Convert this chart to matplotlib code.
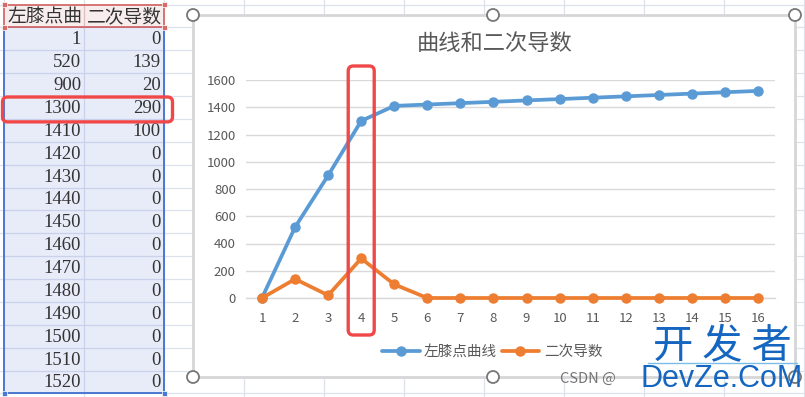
import matplotlib
matplotlib.use('Agg')
import matplotlib.pyplot as plt
from matplotlib.patches import Rectangle, FancyBboxPatch, Circle

plt.rcParams['font.family'] = ['Noto Sans CJK SC', 'DejaVu Sans']

# ---------------- data ----------------
categories = list(range(1, 17))
knee_curve = [1, 520, 900, 1300, 1410, 1420, 1430, 1440, 1450, 1460,
              1470, 1480, 1490, 1500, 1510, 1520]
second_deriv = [0, 139, 20, 290, 100, 0, 0, 0, 0, 0, 0, 0, 0, 0, 0, 0]
header_labels = ['左膝点曲线', '二次导数']
series_names = ['左膝点曲线', '二次导数']
chart_title = '曲线和二次导数'
y_ticks = [0, 200, 400, 600, 800, 1000, 1200, 1400, 1600]
highlight_category = 4
header_visible_chars = 4   # the narrow spreadsheet cell cuts the first header

# ---------------- figure ----------------
W, H = 805, 397
fig = plt.figure(figsize=(W / 100, H / 100), dpi=100)

bg = fig.add_axes([0, 0, 1, 1], zorder=0)
bg.set_xlim(0, W)
bg.set_ylim(H, 0)
bg.axis('off')

# spreadsheet grid
grid_c = '#DCE1EC'
row_h = 22.875
top0 = 4.5
for k in range(18):
    y = top0 + k * row_h
    bg.plot([0, W], [y, y], color=grid_c, lw=0.9, zorder=1)
for x in range(4, W + 1, 80):
    bg.plot([x, x], [0, H], color=grid_c, lw=0.9, zorder=1)

# chart area (white, grey border)
cx0, cy0, cx1, cy1 = 193, 15, 795, 377
bg.add_patch(Rectangle((cx0, cy0), cx1 - cx0, cy1 - cy0, facecolor='white',
                       edgecolor='#D6D6D6', lw=2.0, zorder=5))

# table
tx0, tx1, tmid = 4, 164, 84
data_top = top0 + row_h
n = len(knee_curve)
data_bot = data_top + n * row_h
bg.add_patch(Rectangle((tx0, data_top), tx1 - tx0, data_bot - data_top,
                       facecolor='#E8ECF8', edgecolor='none', zorder=6))
for i in range(1, n):
    y = data_top + i * row_h
    bg.plot([tx0, tx1], [y, y], color='#C9D2EA', lw=0.9, zorder=7)
bg.plot([tmid, tmid], [data_top, data_bot], color='#C9D2EA', lw=0.9, zorder=7)
bg.add_patch(Rectangle((tx0, data_top), tx1 - tx0, data_bot - data_top,
                       facecolor='none', edgecolor='#4A78D0', lw=1.4, zorder=8))
for (hx, hy) in [(tx0, data_bot), (tx1, data_bot)]:
    bg.add_patch(Rectangle((hx - 2.5, hy - 2.5), 5, 5, facecolor='#4A78D0',
                           edgecolor='white', lw=0.5, zorder=9))

# header row
bg.add_patch(Rectangle((tx0, top0), tx1 - tx0, row_h, facecolor='#F7EDED',
                       edgecolor='none', zorder=8))
hy = top0 + row_h / 2 + 1
bg.text(7, hy, header_labels[0][:header_visible_chars], ha='left', va='center',
        fontsize=13.5, color='#333333', zorder=9)
bg.text(tx1 - 2, hy, header_labels[1], ha='right', va='center', fontsize=13.5,
        color='#333333', zorder=11)
bg.plot([tmid, tmid], [top0, data_top], color='#E3BDBD', lw=0.9, zorder=11)
bg.add_patch(Rectangle((tx0, top0), tx1 - tx0, row_h, facecolor='none',
                       edgecolor='#D46A6A', lw=1.3, zorder=12))
for (hx, hy2) in [(tx0, top0), (tx1, top0), (tx0, data_top), (tx1, data_top)]:
    bg.add_patch(Rectangle((hx - 2.5, hy2 - 2.5), 5, 5, facecolor='#D46A6A',
                           edgecolor='white', lw=0.5, zorder=13))

for i, (a, b) in enumerate(zip(knee_curve, second_deriv)):
    y = data_top + (i + 0.5) * row_h + 1
    bg.text(tmid - 3, y, str(a), ha='right', va='center', fontsize=13.5,
            family='Liberation Serif', color='#333333', zorder=10)
    bg.text(tx1 - 3, y, str(b), ha='right', va='center', fontsize=13.5,
            family='Liberation Serif', color='#333333', zorder=10)

# ---------------- chart ----------------
ax_l, ax_r, ax_b, ax_t = 245.5, 774.5, 298, 80
ax = fig.add_axes([ax_l / W, 1 - ax_b / H, (ax_r - ax_l) / W, (ax_b - ax_t) / H],
                  zorder=2)
ax.patch.set_alpha(0)
blue, orange = '#5B9BD5', '#ED7D31'
ax.plot(categories, knee_curve, color=blue, lw=2.7, marker='o', ms=6.5,
        label=series_names[0], clip_on=False, zorder=3,
        solid_joinstyle='round', solid_capstyle='round')
ax.plot(categories, second_deriv, color=orange, lw=2.7, marker='o', ms=6.5,
        label=series_names[1], clip_on=False, zorder=4,
        solid_joinstyle='round', solid_capstyle='round')
ax.set_xlim(0.5, 16.5)
ax.set_ylim(0, 1600)
ax.set_yticks(y_ticks)
ax.set_xticks(categories)
ax.grid(axis='y', color='#D9D9D9', lw=1.0, zorder=0)
ax.set_axisbelow(True)
for s in ['top', 'right', 'left']:
    ax.spines[s].set_visible(False)
ax.spines['bottom'].set_color('#D9D9D9')
ax.spines['bottom'].set_linewidth(1.0)
ax.tick_params(axis='both', length=0, labelsize=9.5, colors='#595959')
ax.tick_params(axis='x', pad=10)
ax.tick_params(axis='y', pad=7)

fig.text(495 / W, 1 - 43 / H, chart_title, ha='center', va='center',
         fontsize=16, color='#595959')

fig.legend(loc='center', bbox_to_anchor=(492 / W, 1 - 352 / H), ncol=2,
           frameon=False, fontsize=10.5, handlelength=2.6, handletextpad=0.3,
           columnspacing=0.3, labelcolor='#595959')

# ---------------- overlay ----------------
ov = fig.add_axes([0, 0, 1, 1], zorder=3)
ov.set_xlim(0, W)
ov.set_ylim(H, 0)
ov.axis('off')
ov.patch.set_alpha(0)

red = '#F04848'
row_i = highlight_category - 1
ry0 = data_top + row_i * row_h + 1
ov.add_patch(FancyBboxPatch((2.5, ry0), 170, row_h + 2,
                            boxstyle='round,pad=0,rounding_size=5',
                            fill=False, ec=red, lw=2.4))
fig.canvas.draw()
px = ax.transData.transform((highlight_category, 0))[0]
ov.add_patch(FancyBboxPatch((px - 13, 66), 26, 269,
                            boxstyle='round,pad=0,rounding_size=5',
                            fill=False, ec=red, lw=2.4))

for (hx, hyy) in [(cx0, cy0), (493, cy0), (cx1, cy0),
                  (cx0, cy1), (493, cy1), (cx1, cy1)]:
    ov.add_patch(Circle((hx, hyy), 6, facecolor='white', edgecolor='#777777',
                        lw=1.3))

# watermarks
ov.text(560, 379, 'CSDN @', ha='left', va='center', fontsize=10.5,
        color='#666666', alpha=0.9)
ov.text(722, 347, '开 发 者', ha='center', va='center', fontsize=29,
        color='#1566C0')
ov.plot([648, 797], [363, 363], color='#7BBDE8', lw=1)
ov.text(722, 379, 'DevZe.CoM', ha='center', va='center', fontsize=22,
        family='Liberation Sans', color='#1566C0')

fig.savefig('out.png', dpi=100)
